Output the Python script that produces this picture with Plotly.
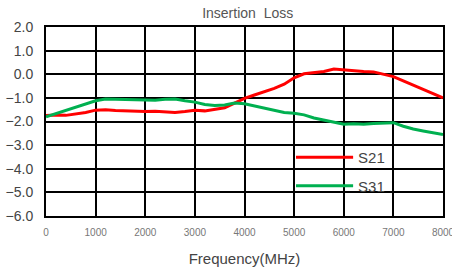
import plotly.graph_objects as go

freq = [0, 200, 400, 600, 800, 1000, 1200, 1400, 1600, 1800, 2000, 2200, 2400, 2600, 2800,
        3000, 3200, 3400, 3600, 3800, 4000, 4200, 4400, 4600, 4800, 5000, 5200, 5400, 5600,
        5800, 6000, 6200, 6400, 6600, 6800, 7000, 7200, 7400, 7600, 7800, 8000]

s21 = [-1.75, -1.72, -1.74, -1.68, -1.62, -1.52, -1.50, -1.53, -1.55, -1.56, -1.58, -1.57,
       -1.60, -1.62, -1.58, -1.52, -1.55, -1.50, -1.42, -1.22, -1.02, -0.88, -0.75, -0.60,
       -0.42, -0.15, 0.02, 0.08, 0.12, 0.22, 0.18, 0.15, 0.12, 0.10, 0.00, -0.10, -0.28,
       -0.45, -0.62, -0.82, -1.00]

s31 = [-1.80, -1.67, -1.53, -1.40, -1.27, -1.12, -1.05, -1.06, -1.08, -1.07, -1.08, -1.10,
       -1.06, -1.05, -1.12, -1.18, -1.28, -1.32, -1.30, -1.22, -1.25, -1.35, -1.45, -1.55,
       -1.62, -1.65, -1.72, -1.85, -1.95, -2.05, -2.12, -2.10, -2.12, -2.08, -2.05, -2.05,
       -2.20, -2.32, -2.40, -2.48, -2.55]

x_ticks = [0, 1000, 2000, 3000, 4000, 5000, 6000, 7000, 8000]
y_ticks = [2, 1, 0, -1, -2, -3, -4, -5, -6]

FONT = "Liberation Sans, Arial, sans-serif"

fig = go.Figure()
fig.add_trace(go.Scatter(x=freq, y=s21, mode="lines", name="S21", legendgroup="a",
                         line=dict(color="#ff0000", width=3)))
fig.add_trace(go.Scatter(x=freq, y=s31, mode="lines", name="S31", legendgroup="b",
                         line=dict(color="#00b050", width=3)))

fig.update_layout(
    width=452, height=267,
    margin=dict(l=46, r=9, t=27, b=51, autoexpand=False),
    paper_bgcolor="white", plot_bgcolor="white",
    font=dict(family=FONT, color="#444444"),
    title=dict(text="Insertion  Loss", x=0.548, xanchor="center", y=0.968, yanchor="top",
               font=dict(size=14, color="#555555", family=FONT)),
    legend=dict(x=0.63, y=0.397, xanchor="left", yanchor="top", bgcolor="rgba(0,0,0,0)",
                font=dict(size=15, color="#444444", family=FONT),
                itemwidth=58, tracegroupgap=6, indentation=-6),
    showlegend=True,
)
fig.update_xaxes(range=[0, 8000], tickvals=x_ticks, ticktext=[str(v) for v in x_ticks],
                 showgrid=True, gridcolor="black", gridwidth=2, automargin=False,
                 showline=True, linecolor="black", linewidth=2, mirror=True,
                 zeroline=False, ticks="", ticklabelstandoff=6,
                 ticklabeloverflow="allow",
                 tickfont=dict(size=10, color="#777777", family=FONT),
                 title=dict(text="Frequency(MHz)", standoff=18,
                            font=dict(size=15, color="#444444", family=FONT)))
fig.update_yaxes(range=[-6, 2], tickvals=y_ticks, tickformat=".1f",
                 showgrid=True, gridcolor="black", gridwidth=2, automargin=False,
                 showline=True, linecolor="black", linewidth=2, mirror=True,
                 zeroline=False, ticks="", ticklabelstandoff=8,
                 ticklabeloverflow="allow",
                 tickfont=dict(size=14, color="#444444", family=FONT))

# remove the default 8px page margin so the figure fills the window exactly
fig.write_html("out.html", config={"displayModeBar": False},
               post_script="document.body.style.margin='0px';")
